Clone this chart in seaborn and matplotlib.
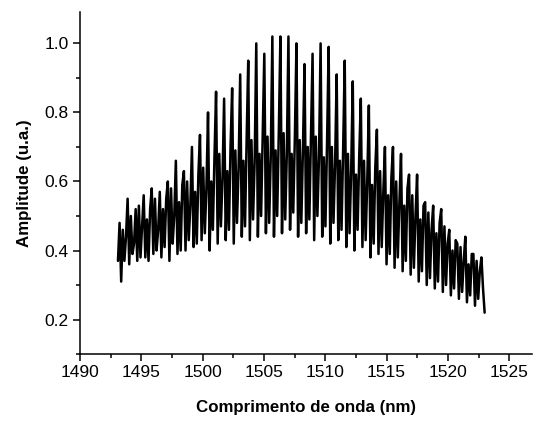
import numpy as np
import pandas as pd
import matplotlib
matplotlib.use("Agg")
import matplotlib.pyplot as plt
import seaborn as sns
from matplotlib.ticker import MultipleLocator, FormatStrFormatter

# Wavelength sampling range (nm)
wl_start = 1493.1
wl_end = 1523.0

# Amplitude samples (five samples per fringe)
amplitude = [
    0.37,
    0.48, 0.31, 0.46, 0.37, 0.44,
    0.55, 0.36, 0.50, 0.39, 0.42,
    0.52, 0.37, 0.53, 0.38, 0.47,
    0.56, 0.38, 0.49, 0.37, 0.52,
    0.58, 0.39, 0.55, 0.40, 0.46,
    0.57, 0.38, 0.52, 0.41, 0.55,
    0.60, 0.37, 0.58, 0.42, 0.50,
    0.66, 0.39, 0.54, 0.40, 0.59,
    0.63, 0.40, 0.60, 0.43, 0.53,
    0.70, 0.41, 0.57, 0.42, 0.62,
    0.735, 0.43, 0.64, 0.45, 0.58,
    0.80, 0.40, 0.60, 0.46, 0.67,
    0.86, 0.42, 0.68, 0.47, 0.61,
    0.84, 0.43, 0.63, 0.46, 0.70,
    0.87, 0.42, 0.69, 0.48, 0.64,
    0.91, 0.44, 0.66, 0.47, 0.72,
    0.95, 0.43, 0.72, 0.49, 0.66,
    1.00, 0.44, 0.68, 0.50, 0.73,
    0.97, 0.45, 0.73, 0.48, 0.67,
    1.02, 0.44, 0.69, 0.50, 0.74,
    1.02, 0.45, 0.74, 0.49, 0.68,
    1.02, 0.46, 0.68, 0.51, 0.73,
    1.00, 0.44, 0.72, 0.48, 0.69,
    0.94, 0.45, 0.70, 0.49, 0.73,
    0.97, 0.43, 0.73, 0.50, 0.67,
    1.00, 0.44, 0.67, 0.47, 0.71,
    0.99, 0.42, 0.70, 0.48, 0.65,
    0.91, 0.43, 0.66, 0.46, 0.69,
    0.95, 0.41, 0.68, 0.45, 0.63,
    0.89, 0.40, 0.62, 0.46, 0.67,
    0.84, 0.41, 0.66, 0.43, 0.60,
    0.82, 0.38, 0.59, 0.42, 0.64,
    0.75, 0.39, 0.63, 0.41, 0.57,
    0.70, 0.36, 0.56, 0.39, 0.61,
    0.70, 0.35, 0.60, 0.38, 0.54,
    0.68, 0.34, 0.53, 0.37, 0.58,
    0.62, 0.33, 0.56, 0.35, 0.50,
    0.62, 0.31, 0.49, 0.34, 0.53,
    0.54, 0.30, 0.51, 0.32, 0.46,
    0.53, 0.29, 0.45, 0.31, 0.48,
    0.52, 0.28, 0.47, 0.30, 0.42,
    0.46, 0.27, 0.40, 0.29, 0.43,
    0.42, 0.26, 0.41, 0.28, 0.37,
    0.44, 0.25, 0.36, 0.27, 0.39,
    0.39, 0.24, 0.37, 0.26, 0.34,
    0.38, 0.29, 0.22,
]

wavelength = np.linspace(wl_start, wl_end, len(amplitude))
df = pd.DataFrame({"wl": wavelength, "amp": amplitude})

sns.set_theme(style="ticks")
plt.rcParams["font.family"] = ["Liberation Sans", "DejaVu Sans"]
plt.rcParams["text.color"] = "black"
plt.rcParams["axes.labelcolor"] = "black"

fig = plt.figure(figsize=(5.33, 4.21), dpi=100)
ax = fig.add_axes([0.150, 0.159, 0.849, 0.8125])

sns.lineplot(data=df, x="wl", y="amp", ax=ax, color="black", linewidth=1.8,
             sort=False, estimator=None)

ax.set_xlim(1490, 1526.9)
ax.set_ylim(0.1, 1.091)
ax.xaxis.set_major_locator(MultipleLocator(5))
ax.xaxis.set_minor_locator(MultipleLocator(2.5))
ax.yaxis.set_major_locator(MultipleLocator(0.2))
ax.yaxis.set_minor_locator(MultipleLocator(0.1))
ax.yaxis.set_major_formatter(FormatStrFormatter("%.1f"))

ax.tick_params(which="major", direction="out", length=5, width=1.1,
               labelsize=12.5, colors="black", labelcolor="black", pad=3)
ax.tick_params(which="minor", direction="out", length=3, width=1.1, colors="black")
for s in ["left", "bottom"]:
    ax.spines[s].set_linewidth(1.1)
    ax.spines[s].set_color("black")
sns.despine(ax=ax)

ax.set_xlabel("Comprimento de onda (nm)", fontsize=12.2, fontweight="bold",
              labelpad=14, color="black")
ax.set_ylabel("Amplitude (u.a.)", fontsize=12.2, fontweight="bold",
              labelpad=9, color="black")

fig.savefig("out.png", dpi=100)
